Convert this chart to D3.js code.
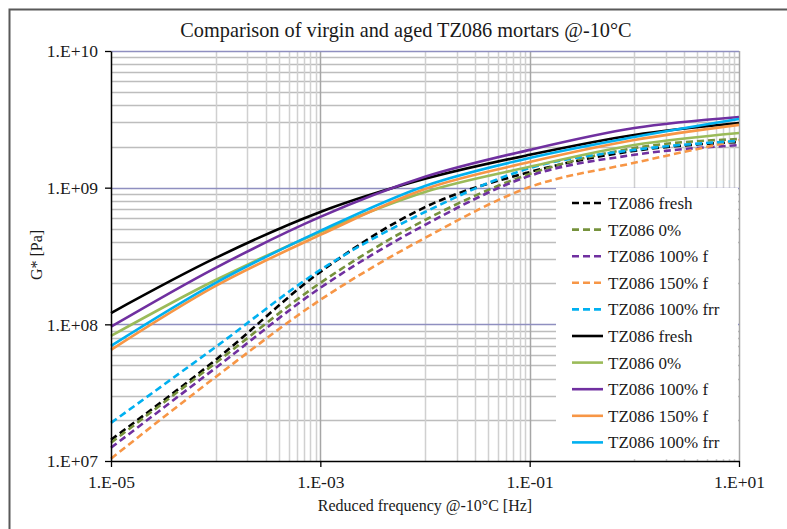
<!DOCTYPE html>
<html>
<head>
<meta charset="utf-8">
<script src="https://cdn.jsdelivr.net/npm/d3@7"></script>
<style>
html,body{margin:0;padding:0;background:#fff;}
svg{display:block;}
svg text{font-family:"Liberation Serif","DejaVu Serif","Times New Roman",Times,serif !important;fill:#1a1a1a;}
</style>
</head>
<body>
<div id="chart"></div>
<script>
// ---------- data ----------
const title = "Comparison of virgin and aged TZ086 mortars @-10°C";
const xTitle = "Reduced frequency @-10°C [Hz]";
const yTitle = "G* [Pa]";
const freq = [1e-5, 1e-4, 1e-3, 1e-2, 1e-1, 1e0, 1e1];
const xTickValues = [1e-5, 1e-3, 1e-1, 1e1];
const xTickLabels = ["1.E-05", "1.E-03", "1.E-01", "1.E+01"];
const yTickValues = [1e7, 1e8, 1e9, 1e10];
const yTickLabels = ["1.E+07", "1.E+08", "1.E+09", "1.E+10"];

const seriesNames = ["TZ086 fresh", "TZ086 0%", "TZ086 100% f", "TZ086 150% f", "TZ086 100% frr",
                     "TZ086 fresh", "TZ086 0%", "TZ086 100% f", "TZ086 150% f", "TZ086 100% frr"];
const seriesColors = ["#000000", "#76923C", "#7030A0", "#F79646", "#00B0F0",
                      "#000000", "#9BBB59", "#7030A0", "#F79646", "#00B0F0"];
const seriesDashed = [true, true, true, true, true, false, false, false, false, false];

// aged / dashed series
const freshDashed   = [1.43e7, 5.49e7, 2.42e8, 7.2e8, 1.30e9, 1.86e9, 2.16e9];
const zeroDashed    = [1.36e7, 5.22e7, 2.01e8, 5.8e8, 1.26e9, 1.95e9, 2.27e9];
const f100Dashed    = [1.25e7, 4.80e7, 1.85e8, 5.34e8, 1.22e9, 1.74e9, 2.05e9];
const f150Dashed    = [1.04e7, 4.12e7, 1.51e8, 4.29e8, 1.01e9, 1.52e9, 2.23e9];
const frr100Dashed  = [1.90e7, 6.83e7, 2.50e8, 6.64e8, 1.39e9, 1.89e9, 2.20e9];
// virgin / solid series
const freshSolid    = [1.21e8, 3.06e8, 6.64e8, 1.16e9, 1.74e9, 2.43e9, 2.97e9];
const zeroSolid     = [8.23e7, 2.11e8, 4.74e8, 9.30e8, 1.42e9, 2.05e9, 2.51e9];
const f100Solid     = [9.6e7, 2.59e8, 6.11e8, 1.20e9, 1.89e9, 2.73e9, 3.29e9];
const f150Solid     = [6.50e7, 1.91e8, 4.51e8, 9.78e8, 1.54e9, 2.23e9, 2.88e9];
const frr100Solid   = [6.95e7, 2.01e8, 4.83e8, 1.03e9, 1.65e9, 2.35e9, 3.18e9];

const seriesValues = [freshDashed, zeroDashed, f100Dashed, f150Dashed, frr100Dashed,
                      freshSolid, zeroSolid, f100Solid, f150Solid, frr100Solid];

// ---------- layout ----------
const W = 787, H = 529;
const m = {left: 111, top: 51, right: 48, bottom: 68};
const svg = d3.select("#chart").append("svg").attr("width", W).attr("height", H);

const x = d3.scaleLog().domain([1e-5, 1e1]).range([m.left, W - m.right]);
const y = d3.scaleLog().domain([1e7, 1e10]).range([H - m.bottom, m.top]);

// outer frame
svg.append("path").attr("d", `M9.5,${H} L9.5,9.5 L${W},9.5`)
  .attr("fill", "none").attr("stroke", "#595959").attr("stroke-width", 2);

// minor gridlines
const xMinor = [];
for (let i = 0; i < xTickValues.length - 1; i++) {
  for (let k = 1; k <= 9; k++) xMinor.push(xTickValues[i] * 10 * k);
}
const yMinor = [];
for (let i = 0; i < yTickValues.length - 1; i++) {
  for (let k = 2; k <= 9; k++) yMinor.push(yTickValues[i] * k);
}
const grid = svg.append("g");
grid.selectAll(".hm").data(yMinor).join("line")
  .attr("x1", m.left).attr("x2", W - m.right)
  .attr("y1", d => Math.round(y(d)) + 0.5).attr("y2", d => Math.round(y(d)) + 0.5)
  .attr("stroke", "#BDBDBD").attr("stroke-width", 1.5);
grid.selectAll(".vm").data(xMinor.filter(v => !xTickValues.includes(v))).join("line")
  .attr("y1", m.top).attr("y2", H - m.bottom)
  .attr("x1", d => Math.round(x(d)) + 0.5).attr("x2", d => Math.round(x(d)) + 0.5)
  .attr("stroke", "#D0D0D0").attr("stroke-width", 1.5);
grid.selectAll(".vM").data(xTickValues.slice(1)).join("line")
  .attr("y1", m.top).attr("y2", H - m.bottom)
  .attr("x1", d => Math.round(x(d)) + 0.5).attr("x2", d => Math.round(x(d)) + 0.5)
  .attr("stroke", "#A6A6A6").attr("stroke-width", 1.5);
grid.selectAll(".hM").data(yTickValues.slice(1)).join("line")
  .attr("x1", m.left).attr("x2", W - m.right)
  .attr("y1", d => Math.round(y(d)) + 0.5).attr("y2", d => Math.round(y(d)) + 0.5)
  .attr("stroke", "#8F8FC0").attr("stroke-width", 1.5);

// series
const line = d3.line()
  .x((d, i) => x(freq[i]))
  .y(d => y(d))
  .curve(d3.curveMonotoneX);
const lines = svg.append("g");
seriesValues.forEach((vals, s) => {
  lines.append("path")
    .attr("d", line(vals))
    .attr("fill", "none")
    .attr("stroke", seriesColors[s])
    .attr("stroke-width", 2.6)
    .attr("stroke-dasharray", seriesDashed[s] ? "7,4" : null);
});

// axes
const xAxis = d3.axisBottom(x).tickValues(xTickValues)
  .tickFormat((d, i) => xTickLabels[i]).tickSize(6).tickSizeOuter(0);
const gx = svg.append("g").attr("transform", `translate(0,${H - m.bottom})`).call(xAxis);
const yAxis = d3.axisLeft(y).tickValues(yTickValues)
  .tickFormat((d, i) => yTickLabels[i]).tickSize(6).tickSizeOuter(0);
const gy = svg.append("g").attr("transform", `translate(${m.left},0)`).call(yAxis);
[gx, gy].forEach(g => {
  g.attr("font-family", null).attr("font-size", 17.5);
  g.select(".domain").attr("stroke", "#000").attr("stroke-width", 1.5);
  g.selectAll(".tick line").attr("stroke", "#000").attr("stroke-width", 1.3);
  g.selectAll(".tick text").attr("font-size", 17.5).attr("fill", "#1a1a1a");
});
gx.selectAll(".tick text").attr("dy", "1.05em");
gy.selectAll(".tick text").attr("x", -13).attr("dy", "0.34em");

// legend (drawn over the plot like Excel)
const lg = svg.append("g");
lg.append("rect").attr("x", 556).attr("y", 188).attr("width", 182).attr("height", 271).attr("fill", "#fff");
seriesNames.forEach((name, i) => {
  const cy = 203 + i * 26.6;
  lg.append("line").attr("x1", 572).attr("x2", 603).attr("y1", cy).attr("y2", cy)
    .attr("stroke", seriesColors[i]).attr("stroke-width", 2.6)
    .attr("stroke-dasharray", seriesDashed[i] ? "7,4" : null);
  lg.append("text").attr("x", 608).attr("y", cy).attr("dy", "0.35em")
    .attr("font-size", 17).text(name);
});

// titles
svg.append("text").attr("x", 406).attr("y", 37).attr("text-anchor", "middle")
  .attr("font-size", 20.3).text(title);
svg.append("text").attr("x", 425).attr("y", 511).attr("text-anchor", "middle")
  .attr("font-size", 16).text(xTitle);
svg.append("text").attr("transform", "translate(42,255) rotate(-90)")
  .attr("text-anchor", "middle").attr("font-size", 16).text(yTitle);
</script>
</body>
</html>
